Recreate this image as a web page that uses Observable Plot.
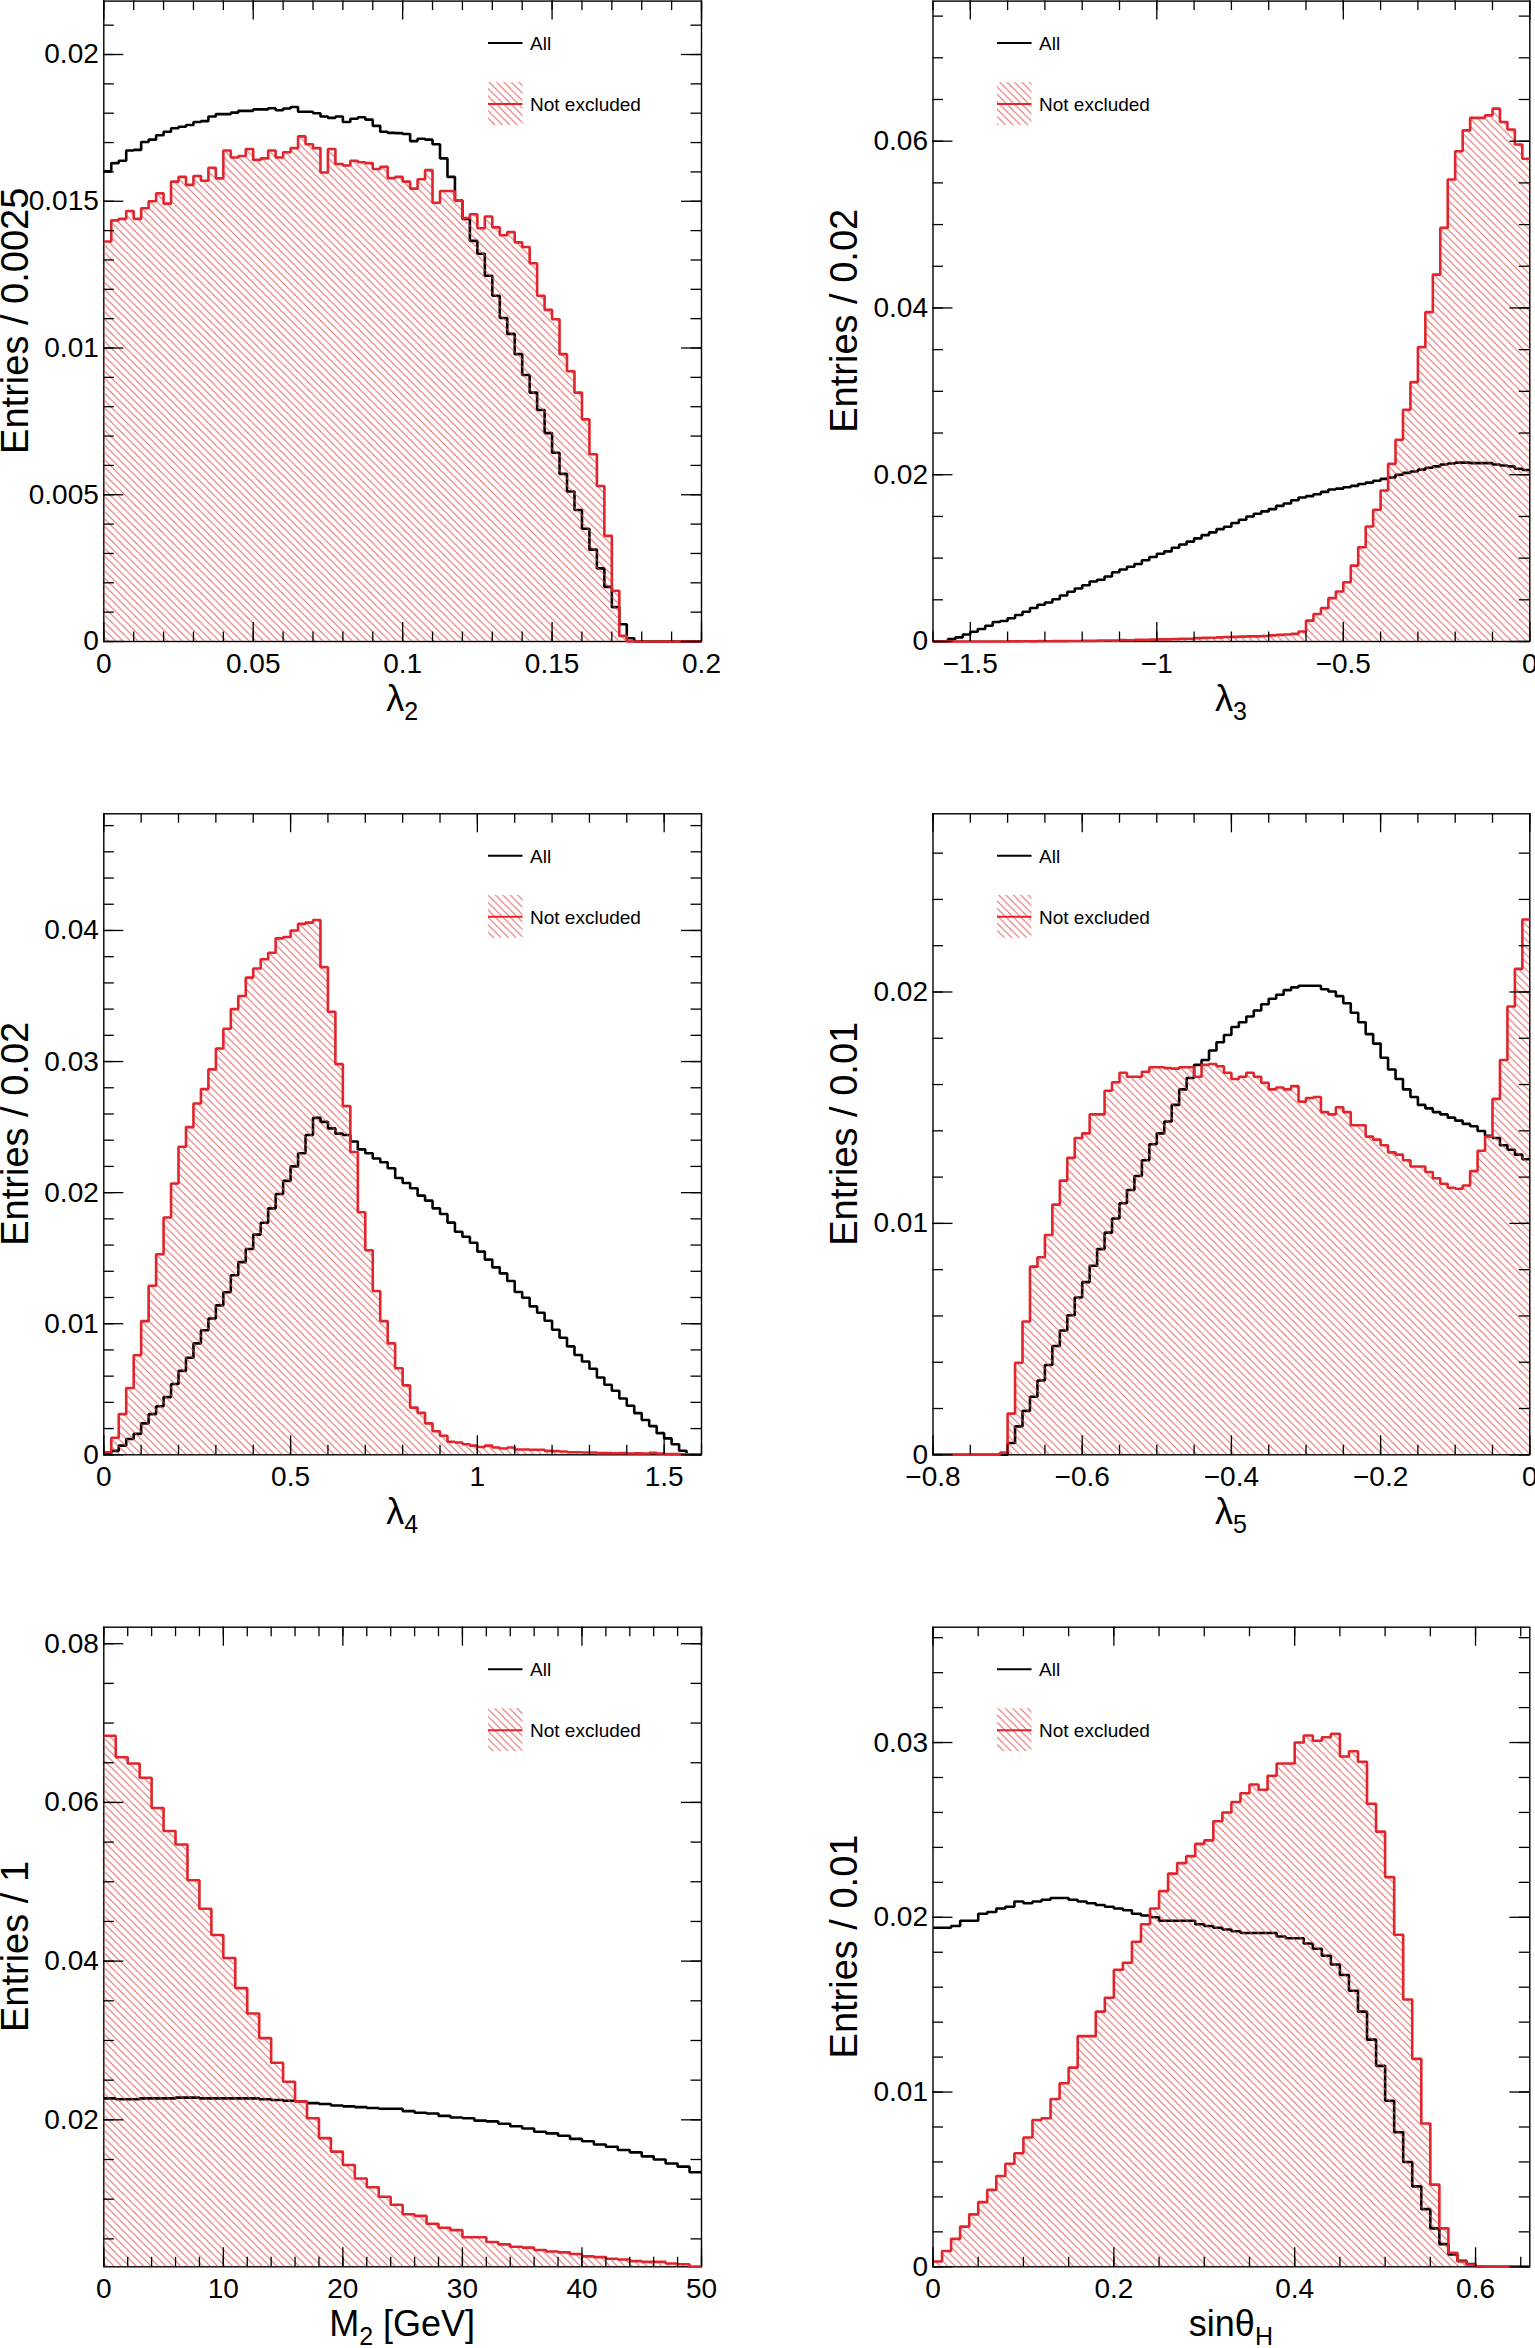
<!DOCTYPE html>
<html>
<head>
<meta charset="utf-8">
<script src="https://cdn.jsdelivr.net/npm/d3@7"></script>
<script src="https://cdn.jsdelivr.net/npm/@observablehq/plot@0.6"></script>
<style>
html, body { margin: 0; padding: 0; background: #fff; }
#page { position: relative; width: 1535px; height: 2348px; overflow: hidden; background: #fff; }
#page svg { position: absolute; overflow: visible; }
</style>
</head>
<body>
<div id="page"></div>
<script>
// ---------------- DATA (bin contents) ----------------
// lambda_2 : 80 bins of 0.0025 from 0
const lambda2All = [0.01602,0.01630,0.01638,0.01673,0.01675,0.01702,0.01710,0.01725,0.01737,0.01749,0.01754,0.01760,0.01770,0.01773,0.01789,0.01797,0.01797,0.01802,0.01808,0.01808,0.01813,0.01813,0.01817,0.01810,0.01816,0.01821,0.01805,0.01805,0.01800,0.01789,0.01784,0.01789,0.01770,0.01781,0.01786,0.01778,0.01757,0.01737,0.01733,0.01732,0.01729,0.01705,0.01713,0.01710,0.01694,0.01646,0.01583,0.01503,0.01440,0.01365,0.01321,0.01246,0.01178,0.01102,0.01048,0.00979,0.00908,0.00848,0.00789,0.00710,0.00643,0.00571,0.00511,0.00448,0.00384,0.00313,0.00249,0.00186,0.00117,0.00059,0.00011,0,0,0,0,0,0,0,0,0];
const lambda2NotExcl = [0.01363,0.01435,0.01440,0.01467,0.01440,0.01476,0.01500,0.01527,0.01492,0.01567,0.01583,0.01556,0.01586,0.01570,0.01614,0.01578,0.01673,0.01649,0.01654,0.01678,0.01641,0.01646,0.01673,0.01649,0.01667,0.01681,0.01721,0.01694,0.01681,0.01598,0.01678,0.01627,0.01622,0.01638,0.01633,0.01630,0.01610,0.01617,0.01579,0.01583,0.01567,0.01543,0.01575,0.01606,0.01495,0.01535,0.01535,0.01503,0.01443,0.01456,0.01408,0.01448,0.01411,0.01384,0.01395,0.01360,0.01344,0.01289,0.01178,0.01130,0.01098,0.00979,0.00921,0.00848,0.00757,0.00638,0.00530,0.00360,0.00173,0.00019,0,0,0,0,0,0,0,0,0,0];

// lambda_3 : 80 bins of 0.02 from -1.6
const lambda3All = [0,0,0.00028,0.00050,0.00084,0.00117,0.00150,0.00189,0.00234,0.00245,0.00279,0.00318,0.00357,0.00401,0.00440,0.00468,0.00507,0.00552,0.00596,0.00635,0.00674,0.00719,0.00741,0.00780,0.00830,0.00864,0.00897,0.00930,0.00975,0.01014,0.01053,0.01081,0.01125,0.01164,0.01198,0.01237,0.01276,0.01309,0.01348,0.01376,0.01421,0.01460,0.01499,0.01532,0.01560,0.01588,0.01627,0.01655,0.01694,0.01727,0.01744,0.01766,0.01794,0.01822,0.01833,0.01850,0.01866,0.01889,0.01905,0.01928,0.01950,0.01967,0.02000,0.02022,0.02039,0.02061,0.02084,0.02100,0.02123,0.02134,0.02145,0.02145,0.02139,0.02139,0.02139,0.02123,0.02111,0.02100,0.02072,0.02056];
const lambda3NotExcl = [0,0,0,0,0,0,0,0,0,0,0.00002,0.00001,0.00003,0.00002,0.00004,0.00003,0.00005,0.00004,0.00006,0.00006,0.00008,0.00007,0.0001,0.00012,0.00011,0.00016,0.00015,0.00019,0.0002,0.00022,0.00026,0.00025,0.00028,0.00031,0.00033,0.0004,0.00044,0.00045,0.0005,0.00054,0.00056,0.00058,0.00061,0.00062,0.00066,0.00074,0.0008,0.00084,0.00092,0.0012,0.0025,0.0033,0.0040,0.0052,0.0060,0.0071,0.0091,0.0113,0.0138,0.0158,0.0181,0.0213,0.0242,0.0278,0.0311,0.0353,0.0395,0.0440,0.0496,0.0554,0.0588,0.0613,0.0628,0.0628,0.0631,0.0639,0.0623,0.0614,0.0596,0.0579];

// lambda_4 : 80 bins of 0.02 from 0
const lambda4All = [0.0001,0.0003,0.0007,0.0012,0.0016,0.0024,0.0031,0.0037,0.0044,0.0054,0.0064,0.0074,0.0085,0.0095,0.0104,0.0114,0.0124,0.0137,0.0147,0.0157,0.0168,0.0177,0.0188,0.0199,0.0209,0.0220,0.0230,0.0244,0.0257,0.0254,0.0249,0.0245,0.0244,0.0239,0.0233,0.0230,0.0226,0.02232,0.02186,0.02112,0.02074,0.02033,0.01977,0.01939,0.01880,0.01837,0.01771,0.01702,0.01664,0.01618,0.01550,0.01489,0.01430,0.01384,0.01326,0.01242,0.01198,0.01132,0.01084,0.01023,0.00954,0.00893,0.00827,0.00761,0.00712,0.00656,0.00590,0.00534,0.00489,0.00430,0.00374,0.00318,0.00265,0.00219,0.00165,0.00125,0.00081,0.00031,0,0];
const lambda4NotExcl = [0.0002,0.0013,0.0031,0.0051,0.0076,0.0102,0.0129,0.0153,0.0181,0.0207,0.0235,0.0250,0.0268,0.0279,0.0294,0.0310,0.0325,0.0340,0.0350,0.0364,0.0371,0.0378,0.0383,0.0394,0.0395,0.0400,0.0405,0.0406,0.0408,0.0372,0.0338,0.0298,0.0266,0.0231,0.0185,0.0156,0.0125,0.0102,0.0085,0.0066,0.0053,0.0036,0.0032,0.0024,0.0018,0.00145,0.0010,0.00094,0.0008,0.0007,0.0006,0.0007,0.00056,0.00048,0.00056,0.0004,0.0004,0.00038,0.00038,0.0003,0.00028,0.00025,0.0002,0.0002,0.00018,0.00018,0.00013,0.00013,0.00012,0.00013,0.0001,0.00011,0.0001,0.00015,0.0001,0.00005,0.00005,0.00003,0.00003,0.00003];

// lambda_5 : 80 bins of 0.01 from -0.8
const lambda5All = [0,0,0,0,0,0,0,0,0,0,0.00051,0.00123,0.00190,0.00251,0.00321,0.00388,0.00470,0.00537,0.00603,0.00680,0.00746,0.00817,0.00889,0.00960,0.01021,0.01087,0.01144,0.01205,0.01273,0.01342,0.01389,0.01440,0.01512,0.01579,0.01628,0.01685,0.01706,0.01747,0.01783,0.01814,0.01849,0.01869,0.01894,0.01920,0.01947,0.01971,0.01988,0.02008,0.02020,0.02027,0.02027,0.02027,0.02012,0.02002,0.01982,0.01951,0.01910,0.01869,0.01818,0.01777,0.01716,0.01665,0.01624,0.01579,0.01546,0.01512,0.01497,0.01481,0.01471,0.01457,0.01444,0.01430,0.01420,0.01399,0.01379,0.01369,0.01338,0.01318,0.01297,0.01277];
const lambda5NotExcl = [0,0,0,0,0,0,0,0,0,0.0001,0.00178,0.00398,0.00576,0.00813,0.00854,0.00950,0.01081,0.01185,0.01283,0.01369,0.01389,0.01471,0.01471,0.01573,0.01610,0.01651,0.01634,0.01634,0.01655,0.01675,0.01675,0.01671,0.01669,0.01675,0.01675,0.01634,0.01685,0.01689,0.01679,0.01651,0.01624,0.01634,0.01651,0.01634,0.01608,0.01579,0.01587,0.01579,0.01593,0.01526,0.01542,0.01546,0.01481,0.01471,0.01502,0.01481,0.01424,0.01424,0.01375,0.01362,0.01338,0.01307,0.01297,0.01273,0.01246,0.01246,0.01222,0.01195,0.01171,0.01154,0.01150,0.01164,0.01226,0.01314,0.01375,0.01538,0.01706,0.01937,0.02100,0.02313];

// M_2 [GeV] : 50 bins of 1 from 0
const m2All = [0.0227,0.0226,0.0226,0.0227,0.0227,0.0227,0.0228,0.0228,0.0227,0.0227,0.0227,0.0227,0.0227,0.0226,0.0225,0.0224,0.0223,0.0221,0.0220,0.0218,0.0217,0.0216,0.0215,0.0214,0.0214,0.0211,0.0209,0.0208,0.0205,0.0203,0.0202,0.0199,0.0198,0.0195,0.0192,0.0189,0.0185,0.0183,0.0180,0.0176,0.0173,0.0169,0.0166,0.0162,0.0159,0.0154,0.0150,0.0145,0.0141,0.0134];
const m2NotExcl = [0.0684,0.0657,0.0649,0.0631,0.0593,0.0564,0.0547,0.0502,0.0466,0.0433,0.0404,0.0366,0.0334,0.0303,0.0272,0.0248,0.0223,0.0202,0.0177,0.0160,0.0143,0.0126,0.0115,0.0103,0.0093,0.0081,0.0079,0.0069,0.0064,0.0061,0.0052,0.0052,0.0046,0.0043,0.0040,0.0039,0.0036,0.0034,0.0033,0.0031,0.0028,0.0027,0.0025,0.0024,0.0022,0.0021,0.0021,0.0019,0.0018,0.0015];

// sin(theta_H) : 66 bins of 0.01 from 0
const sinAll = [0.0194,0.0194,0.0195,0.0198,0.0198,0.0202,0.0203,0.0205,0.0206,0.0209,0.0208,0.0209,0.0210,0.0211,0.0211,0.0210,0.0209,0.0208,0.0207,0.0206,0.0205,0.0204,0.0202,0.0201,0.0200,0.0198,0.0198,0.0198,0.0198,0.0196,0.0195,0.0194,0.0193,0.0192,0.0191,0.0191,0.0191,0.0191,0.0189,0.0188,0.0188,0.0185,0.0182,0.0178,0.0173,0.0167,0.0158,0.0146,0.0130,0.0115,0.0095,0.0077,0.0060,0.0046,0.0033,0.0022,0.0013,0.0007,0.00035,0.00016,0.00003,0,0,0,0,0];
const sinNotExcl = [0.0003,0.0009,0.0016,0.0023,0.0030,0.0037,0.0044,0.0052,0.0059,0.0065,0.0074,0.0084,0.0085,0.0096,0.0105,0.0114,0.0132,0.0132,0.0146,0.0154,0.0170,0.0174,0.0186,0.0196,0.0205,0.0215,0.0225,0.0231,0.0235,0.0242,0.0244,0.0255,0.0260,0.0266,0.0271,0.0276,0.0273,0.0281,0.0288,0.0288,0.0300,0.0304,0.0301,0.0303,0.0305,0.0292,0.0295,0.0289,0.0265,0.0249,0.0223,0.0190,0.0153,0.0119,0.0082,0.0047,0.0022,0.0008,0.0003,0.00013,0.00003,0.00001,0,0,0,0];

// tick labels
const lambda2XTicks = [0, 0.05, 0.1, 0.15, 0.2];
const lambda2YTicks = [0, 0.005, 0.01, 0.015, 0.02];
const lambda3XTicks = [-1.5, -1, -0.5, 0];
const lambda3YTicks = [0, 0.02, 0.04, 0.06];
const lambda4XTicks = [0, 0.5, 1, 1.5];
const lambda4YTicks = [0, 0.01, 0.02, 0.03, 0.04];
const lambda5XTicks = [-0.8, -0.6, -0.4, -0.2, 0];
const lambda5YTicks = [0, 0.01, 0.02];
const m2XTicks = [0, 10, 20, 30, 40, 50];
const m2YTicks = [0.02, 0.04, 0.06, 0.08];
const sinXTicks = [0, 0.2, 0.4, 0.6];
const sinYTicks = [0, 0.01, 0.02, 0.03];

const legendLabels = ["All", "Not excluded"];

// ---------------- PANEL DEFINITIONS ----------------
const panels = [
  {row: 0, col: 0, x0: 0, bw: 0.0025, all: lambda2All, sel: lambda2NotExcl, xDomain: [0, 0.2], yDomain: [0, 0.02182],
   xTicks: lambda2XTicks, xMinor: 0.01, yTicks: lambda2YTicks, yMinor: 0.001, yTitle: "Entries / 0.0025", xTitle: ["λ", "2", ""], legend: "right"},
  {row: 0, col: 1, x0: -1.6, bw: 0.02, all: lambda3All, sel: lambda3NotExcl, xDomain: [-1.6, 0], yDomain: [0, 0.0768],
   xTicks: lambda3XTicks, xMinor: 0.1, yTicks: lambda3YTicks, yMinor: 0.005, yTitle: "Entries / 0.02", xTitle: ["λ", "3", ""], legend: "left"},
  {row: 1, col: 0, x0: 0, bw: 0.02, all: lambda4All, sel: lambda4NotExcl, xDomain: [0, 1.6], yDomain: [0, 0.0489],
   xTicks: lambda4XTicks, xMinor: 0.1, yTicks: lambda4YTicks, yMinor: 0.002, yTitle: "Entries / 0.02", xTitle: ["λ", "4", ""], legend: "right"},
  {row: 1, col: 1, x0: -0.8, bw: 0.01, all: lambda5All, sel: lambda5NotExcl, xDomain: [-0.8, 0], yDomain: [0, 0.0277],
   xTicks: lambda5XTicks, xMinor: 0.05, yTicks: lambda5YTicks, yMinor: 0.002, yTitle: "Entries / 0.01", xTitle: ["λ", "5", ""], legend: "left"},
  {row: 2, col: 0, x0: 0, bw: 1, all: m2All, sel: m2NotExcl, xDomain: [0, 50], yDomain: [0.00148, 0.08208],
   xTicks: m2XTicks, xMinor: 2, yTicks: m2YTicks, yMinor: 0.005, yTitle: "Entries / 1", xTitle: ["M", "2", " [GeV]"], legend: "right"},
  {row: 2, col: 1, x0: 0, bw: 0.01, all: sinAll, sel: sinNotExcl, xDomain: [0, 0.66], yDomain: [0, 0.0366],
   xTicks: sinXTicks, xMinor: 0.05, yTicks: sinYTicks, yMinor: 0.002, yTitle: "Entries / 0.01", xTitle: ["sinθ", "H", ""], legend: "left"}
];

// ---------------- LAYOUT / STYLE ----------------
const RED = "#e0262c";
const FONT = "'Liberation Sans', Arial, Helvetica, sans-serif";
const colBox = [{left: 0, width: 767, frameL: 103.3, frameR: 701}, {left: 767, width: 768, frameL: 932.5, frameR: 1529.3}];
const rowBox = [{top: 0, height: 780, frameT: 0.6, frameB: 641}, {top: 780, height: 780, frameT: 813.3, frameB: 1454.3}, {top: 1560, height: 788, frameT: 1626.7, frameB: 2266.3}];

const fmt = d => String(Math.round(d * 1e6) / 1e6).replace("-", "\u2212");

function minorTicks(domain, step) {
  const [a, b] = domain, out = [];
  for (let i = Math.ceil(a / step - 1e-6); i * step <= b + 1e-9; i++) out.push(+(i * step).toFixed(10));
  return out;
}

function steps(vals, x0, bw) {
  const pts = [];
  vals.forEach((v, i) => {
    pts.push({x: x0 + i * bw, y: v});
    pts.push({x: x0 + (i + 1) * bw, y: v});
  });
  return pts;
}

const page = document.getElementById("page");

// overlay (pattern defs, titles, legends)
const NS = "http://www.w3.org/2000/svg";
let ov = `<svg xmlns="${NS}" width="1535" height="2348" style="left:0;top:0;pointer-events:none;font-family:${FONT.replace(/'/g, "&quot;")}">
<defs><pattern id="hatch" patternUnits="userSpaceOnUse" width="7.4" height="7.4">
<path d="M-1,-1 L8.4,8.4 M-1,6.4 L1,8.4 M6.4,-1 L8.4,1" stroke="#e04545" stroke-opacity="0.85" stroke-width="1" fill="none"/>
</pattern></defs>`;

for (const p of panels) {
  const C = colBox[p.col], R = rowBox[p.row];
  const mL = C.frameL - C.left, mR = C.left + C.width - C.frameR;
  const mT = R.frameT - R.top, mB = R.top + R.height - R.frameB;
  const innerW = C.width - mL - mR, innerH = R.height - mT - mB;
  const inX = v => v >= p.xDomain[0] - 1e-9 && v <= p.xDomain[1] + 1e-9;
  const inY = v => v >= p.yDomain[0] - 1e-9 && v <= p.yDomain[1] + 1e-9;
  const xMaj = p.xTicks.filter(inX), yMaj = p.yTicks.filter(inY);
  const xMin = minorTicks(p.xDomain, p.xMinor), yMin = minorTicks(p.yDomain, p.yMinor).filter(inY);
  const tk = {stroke: "#000", strokeWidth: 1.3};
  const allSteps = steps(p.all, p.x0, p.bw), selSteps = steps(p.sel, p.x0, p.bw);

  const chart = Plot.plot({
    width: C.width, height: R.height,
    marginLeft: mL, marginRight: mR, marginTop: mT, marginBottom: mB,
    x: {domain: p.xDomain, label: null},
    y: {domain: p.yDomain, label: null},
    style: {background: "transparent", overflow: "visible", fontFamily: FONT, color: "#000"},
    marks: [
      Plot.frame({stroke: "#000", strokeWidth: 1.4}),
      Plot.line(allSteps, {x: "x", y: "y", stroke: "#000", strokeWidth: 2.6, strokeLinejoin: "miter", strokeLinecap: "butt"}),
      Plot.areaY(selSteps, {x: "x", y1: 0, y2: "y", fill: "url(#hatch)", clip: true}),
      Plot.line(selSteps, {x: "x", y: "y", stroke: RED, strokeWidth: 2.6, strokeLinejoin: "miter", strokeLinecap: "butt"}),
      // inward ticks on all four sides
      Plot.tickX(xMin, {x: d => d, insetTop: innerH - 9.5, ...tk}),
      Plot.tickX(xMin, {x: d => d, insetBottom: innerH - 9.5, ...tk}),
      Plot.tickX(xMaj, {x: d => d, insetTop: innerH - 19, ...tk}),
      Plot.tickX(xMaj, {x: d => d, insetBottom: innerH - 19, ...tk}),
      Plot.tickY(yMin, {y: d => d, insetRight: innerW - 10.5, ...tk}),
      Plot.tickY(yMin, {y: d => d, insetLeft: innerW - 10.5, ...tk}),
      Plot.tickY(yMaj, {y: d => d, insetRight: innerW - 20, ...tk}),
      Plot.tickY(yMaj, {y: d => d, insetLeft: innerW - 20, ...tk}),
      Plot.axisX({ticks: p.xTicks, tickSize: 0, tickPadding: 11.5, fontSize: 28, tickFormat: fmt, label: null, fill: "#000"}),
      Plot.axisY({ticks: p.yTicks, tickSize: 0, tickPadding: 5, fontSize: 28, tickFormat: fmt, label: null, fill: "#000"})
    ]
  });
  chart.style.position = "absolute";
  chart.style.left = C.left + "px";
  chart.style.top = R.top + "px";
  page.appendChild(chart);

  // titles
  const cy = (R.frameT + R.frameB) / 2, cx = (C.frameL + C.frameR) / 2;
  ov += `<text transform="translate(${C.frameL - 75.3},${cy}) rotate(-90)" text-anchor="middle" font-size="38" fill="#000">${p.yTitle}</text>`;
  ov += `<text x="${cx}" y="${R.frameB + 70}" text-anchor="middle" font-size="36" fill="#000">${p.xTitle[0]}<tspan dy="9" font-size="25">${p.xTitle[1]}</tspan>${p.xTitle[2] ? `<tspan dy="-9">${p.xTitle[2]}</tspan>` : ""}</text>`;

  // legend
  const lx1 = p.legend === "right" ? 488 : 997, lx2 = lx1 + 34.5, tx = lx1 + 42;
  const yAll = R.frameT + 42.5, yNot = R.frameT + 103.5;
  ov += `<line x1="${lx1}" x2="${lx2}" y1="${yAll}" y2="${yAll}" stroke="#000" stroke-width="2"/>`;
  ov += `<text x="${tx}" y="${yAll + 6.8}" font-size="19" fill="#000">${legendLabels[0]}</text>`;
  ov += `<rect x="${lx1}" y="${R.frameT + 81.5}" width="${lx2 - lx1}" height="43" fill="url(#hatch)"/>`;
  ov += `<line x1="${lx1}" x2="${lx2}" y1="${yNot}" y2="${yNot}" stroke="${RED}" stroke-width="2"/>`;
  ov += `<text x="${tx}" y="${yNot + 6.8}" font-size="19" fill="#000">${legendLabels[1]}</text>`;
}
ov += `</svg>`;
page.insertAdjacentHTML("beforeend", ov);
</script>
</body>
</html>
